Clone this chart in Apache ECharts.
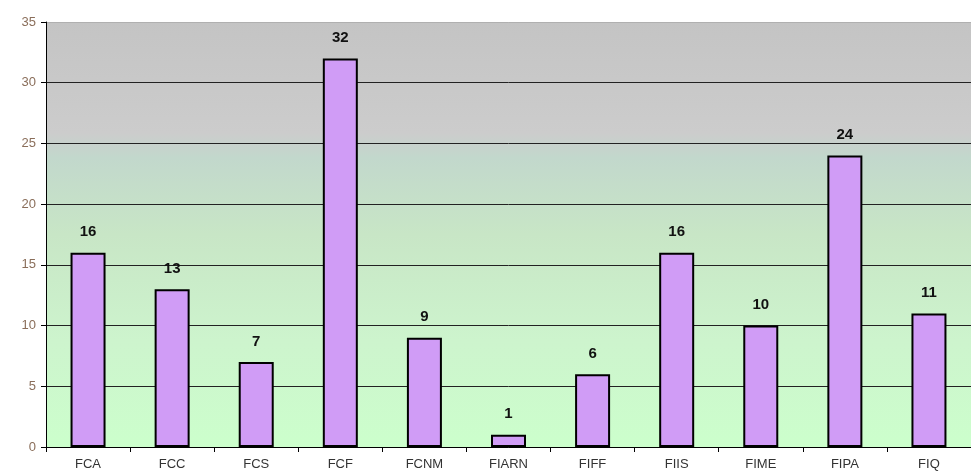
<!DOCTYPE html>
<html>
<head>
<meta charset="utf-8">
<script src="https://cdn.jsdelivr.net/npm/echarts@6/dist/echarts.min.js"></script>
<style>
  html, body { margin: 0; padding: 0; background: #fff; }
  #chart { width: 971px; height: 475px; }
</style>
</head>
<body>
<div id="chart"></div>
<script>
// categories and values
const categories = ['FCA', 'FCC', 'FCS', 'FCF', 'FCNM', 'FIARN', 'FIFF', 'FIIS', 'FIME', 'FIPA', 'FIQ'];
const counts = [16, 13, 7, 32, 9, 1, 6, 16, 10, 24, 11];
const yTicks = [0, 5, 10, 15, 20, 25, 30, 35];

const chart = echarts.init(document.getElementById('chart'));

// grid lines are dark, the top one (35) is a light gray edge
const gridColors = yTicks.map((v, i) => i === yTicks.length - 1 ? '#b0b0b0' : '#222');

const option = {
    animation: false,
    grid: {
        left: 46, right: 0, top: 22, bottom: 28,
        show: true,
        borderWidth: 0,
        backgroundColor: {
            type: 'linear', x: 0, y: 0, x2: 0, y2: 1,
            colorStops: [
                { offset: 0, color: '#c4c4c4' },
                { offset: 0.26, color: '#cccccc' },
                { offset: 0.32, color: '#c2d8cc' },
                { offset: 0.5, color: '#c8e6c6' },
                { offset: 0.75, color: '#cdf4cd' },
                { offset: 1, color: '#ccffcc' }
            ]
        }
    },
    xAxis: {
        type: 'category',
        data: categories,
        axisLine: { lineStyle: { color: '#000', width: 1 } },
        axisTick: { show: true, length: 5, lineStyle: { color: '#000' } },
        axisLabel: { color: '#333', fontSize: 13, fontFamily: 'Liberation Sans', margin: 11 }
    },
    yAxis: {
        type: 'value',
        min: 0, max: yTicks[yTicks.length - 1], interval: 5,
        axisLine: { show: true, lineStyle: { color: '#000', width: 1 } },
        axisTick: { show: true, length: 5, lineStyle: { color: '#000' } },
        axisLabel: { color: '#8a6e5a', fontSize: 13, fontFamily: 'Liberation Sans', margin: 10 },
        splitLine: { lineStyle: { color: gridColors, width: 1 } }
    },
    series: [{
        type: 'bar',
        data: counts,
        barWidth: 35,
        itemStyle: {
            color: '#d09cf6',
            borderColor: '#000',
            borderWidth: 2
        },
        label: {
            show: true,
            position: 'top',
            distance: 13,
            color: '#111',
            fontSize: 15,
            fontWeight: 'bold',
            fontFamily: 'Liberation Sans'
        }
    }]
};

chart.setOption(option);
</script>
</body>
</html>
